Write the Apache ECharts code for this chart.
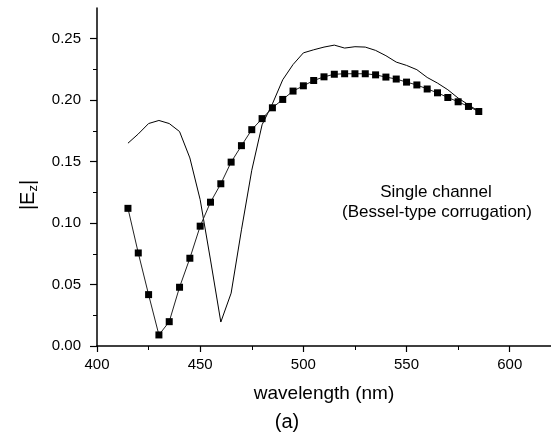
<!DOCTYPE html>
<html>
<head>
<meta charset="utf-8">
<script src="https://cdn.jsdelivr.net/npm/echarts@6/dist/echarts.min.js"></script>
<style>html,body{margin:0;padding:0;background:#fff;}#c{width:551px;height:440px;}</style>
</head>
<body>
<div id="c"></div>
<script>
var wavelengths = [415,420,425,430,435,440,445,450,455,460,465,470,475,480,485,490,495,500,505,510,515,520,525,530,535,540,545,550,555,560,565,570,575,580,585];
var lineValues = [0.165,0.1725,0.181,0.1835,0.181,0.1745,0.153,0.119,0.070,0.0195,0.043,0.0945,0.143,0.180,0.197,0.2166,0.229,0.2385,0.241,0.2432,0.2448,0.2424,0.2435,0.2432,0.2405,0.2362,0.231,0.2283,0.2248,0.2185,0.2139,0.2085,0.2017,0.1963,0.1908];
var squareValues = [0.112,0.0757,0.0418,0.009,0.0198,0.0478,0.0714,0.0975,0.117,0.132,0.1496,0.163,0.176,0.185,0.1938,0.2006,0.2074,0.2117,0.216,0.219,0.2211,0.2215,0.2215,0.2215,0.2206,0.2188,0.2172,0.2147,0.2124,0.2091,0.2060,0.2022,0.1987,0.1949,0.1908];
var xTicks = [400,450,500,550,600];
var yTicks = [0,0.05,0.10,0.15,0.20,0.25];

function pairs(ys){ return wavelengths.map(function(x,i){ return [x, ys[i]]; }); }

var chart = echarts.init(document.getElementById('c'), null, {renderer:'canvas'});
var font = 'Liberation Sans, Arial, sans-serif';
chart.setOption({
  animation: false,
  backgroundColor: '#fff',
  grid: {left: 97, right: 0, top: 8, bottom: 94},
  xAxis: {
    type: 'value', min: 400, max: 620, interval: 50,
    name: 'wavelength (nm)', nameLocation: 'middle', nameGap: 38,
    nameTextStyle: {color: '#000', fontFamily: font, fontSize: 19},
    axisLine: {onZero: false, lineStyle: {color: '#000', width: 1.5}},
    axisTick: {show: true, length: 6, lineStyle: {color: '#000', width: 1.2}, customValues: xTicks},
    minorTick: {show: true, splitNumber: 2, length: 4, lineStyle: {color: '#000', width: 1}},
    axisLabel: {color: '#000', fontFamily: font, fontSize: 15, margin: 11, customValues: xTicks,
      formatter: function(v){ return String(v); }},
    splitLine: {show: false}
  },
  yAxis: {
    type: 'value', min: 0, max: 0.275, interval: 0.05,
    axisLine: {show: true, onZero: false, lineStyle: {color: '#000', width: 1.5}},
    axisTick: {show: true, length: 7, lineStyle: {color: '#000', width: 1.2}, customValues: yTicks},
    minorTick: {show: true, splitNumber: 2, length: 4, lineStyle: {color: '#000', width: 1}},
    axisLabel: {color: '#000', fontFamily: font, fontSize: 15, margin: 16, customValues: yTicks,
      formatter: function(v){ return v.toFixed(2); }},
    splitLine: {show: false}
  },
  graphic: [
    {type: 'text', x: 436, y: 192, style: {text: 'Single channel', font: '17px ' + font, fill: '#000', textAlign: 'center', textVerticalAlign: 'middle'}},
    {type: 'text', x: 437, y: 212, style: {text: '(Bessel-type corrugation)', font: '17px ' + font, fill: '#000', textAlign: 'center', textVerticalAlign: 'middle'}},
    {type: 'text', x: 287, y: 422, style: {text: '(a)', font: '20px ' + font, fill: '#000', textAlign: 'center', textVerticalAlign: 'middle'}},
    {type: 'text', x: 28, y: 195, rotation: Math.PI/2, style: {
      text: '|E{s|z}|', fontFamily: font, fontSize: 20, fill: '#000', textAlign: 'center', textVerticalAlign: 'middle',
      rich: {s: {fontFamily: font, fontSize: 13, fill: '#000', padding: [10,0,0,0]}}}}
  ],
  series: [
    {type: 'line', data: pairs(lineValues), showSymbol: false, symbol: 'none',
      lineStyle: {color: '#000', width: 1}, z: 2},
    {type: 'line', data: pairs(squareValues), symbol: 'rect', symbolSize: 7,
      itemStyle: {color: '#000'}, lineStyle: {color: '#222', width: 1}, z: 3}
  ]
});
</script>
</body>
</html>
